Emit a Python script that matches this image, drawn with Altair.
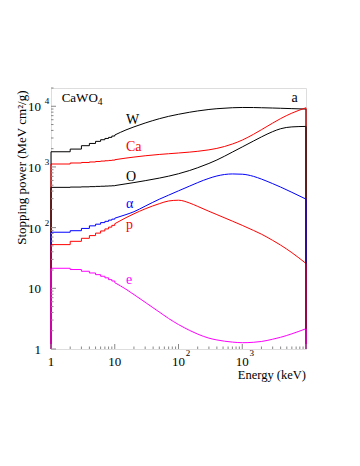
import altair as alt
import pandas as pd

# ---------------- data ----------------
series = ["W", "Ca", "O", "α", "p", "e"]
colors = ["#000000", "#ff0000", "#000000", "#0000ff", "#ff0000", "#ff00ff"]

# low-energy part (tabulated at integer keV, drawn as steps)
energy_steps = [1, 2, 3, 4, 5, 6, 7, 8, 9, 10]
w_steps = [1780, 1970, 2240, 2440, 2640, 2810, 2950, 3070, 3230, 3360]
ca_steps = [1118, 1162, 1185, 1208, 1230, 1250, 1265, 1280, 1295, 1316]
o_steps = [461, 466, 470, 474, 478, 481, 484, 487, 490, 493]
alpha_steps = [84, 89, 97, 107, 114, 121, 127, 133, 138, 143]
p_steps = [52.5, 59.5, 66.7, 73.9, 81.2, 88.2, 95.2, 102, 109, 116]
e_steps = [21.4, 20.4, 19.1, 17.9, 16.8, 15.8, 14.9, 13.9, 13.2, 12.4]

# higher-energy part (smooth)
energy_smooth = [10, 15, 20, 30, 50, 70, 100, 150, 200, 300, 400, 700,
                 1000, 1500, 2000, 3000, 4000, 6000, 10000]
w_smooth = [3360, 4074, 4571, 5297, 6237, 6823, 7379, 7980, 8375, 8851, 9120,
            9462, 9550, 9528, 9462, 9354, 9268, 9141, 8995]
ca_smooth = [1316, 1400, 1455, 1528, 1607, 1652, 1698, 1758, 1811, 1914, 2023,
             2388, 2773, 3451, 4111, 5284, 6266, 7709, 9441]
o_smooth = [493, 527, 553, 594, 655, 705, 773, 875, 971, 1143, 1303, 1758,
            2138, 2673, 3126, 3819, 4266, 4571, 4656]
alpha_smooth = [143, 164, 183, 226, 294, 343, 404, 485, 552, 649, 710, 767,
                759, 700, 631, 531, 466, 382, 295]
p_smooth = [116, 146, 169, 204, 248, 275, 283, 254, 224, 186, 164, 128,
            109, 90, 78, 61.7, 51.5, 38.7, 25.7]
e_smooth = [12.4, 9.66, 7.89, 5.89, 4.06, 3.18, 2.53, 2.02, 1.76, 1.51, 1.41,
            1.30, 1.27, 1.29, 1.33, 1.45, 1.56, 1.78, 2.16]

# curve labels
label_energy = [15, 15, 15, 15, 15, 15]
label_value = [5090, 1851, 594, 208, 96.3, 11.8]

# axis ticks / labels
y_major = [1, 10, 100, 1000, 10000]
y_minor = [2, 3, 4, 5, 6, 7, 8, 9, 20, 30, 40, 50, 60, 70, 80, 90,
           200, 300, 400, 500, 600, 700, 800, 900,
           2000, 3000, 4000, 5000, 6000, 7000, 8000, 9000, 20000]
x_major = [1, 10, 100, 1000, 10000]
x_minor = [2, 3, 4, 5, 6, 7, 8, 9, 20, 30, 40, 50, 60, 70, 80, 90,
           200, 300, 400, 500, 600, 700, 800, 900,
           2000, 3000, 4000, 5000, 6000, 7000, 8000, 9000]
y_label_vals = [1, 10, 100, 1000, 10000]
y_label_txt = ["1", "10", "10", "10", "10"]
y_sup_vals = [100, 1000, 10000]
y_sup_txt = ["2", "3", "4"]
x_label_vals = [1, 10, 100, 1000]
x_label_txt = ["1", "10", "10", "10"]
x_sup_vals = [100, 1000]
x_sup_txt = ["2", "3"]
x_title = "Energy (keV)"
y_title = "Stopping power (MeV cm²/g)"

# ---------------- tables ----------------
steps = [w_steps, ca_steps, o_steps, alpha_steps, p_steps, e_steps]
smooth = [w_smooth, ca_smooth, o_smooth, alpha_smooth, p_smooth, e_smooth]

step_rows, smooth_rows, edge_rows = [], [], []
for k, name in enumerate(series):
    for i, (E, S) in enumerate(zip(energy_steps, steps[k])):
        step_rows.append({"series": name, "E": E, "S": S, "i": i})
    for i, (E, S) in enumerate(zip(energy_smooth, smooth[k])):
        smooth_rows.append({"series": name, "E": E, "S": S, "i": i})
    edge_rows.append({"series": name, "E": energy_steps[0], "S": steps[k][0], "k": k})
    edge_rows.append({"series": name, "E": energy_smooth[-1], "S": smooth[k][-1], "k": k})
step_df = pd.DataFrame(step_rows)
smooth_df = pd.DataFrame(smooth_rows)
edge_df = pd.DataFrame(edge_rows).sort_values(["E", "k"])
label_df = pd.DataFrame({"series": series, "E": label_energy, "S": label_value, "text": series})

W, H = 255, 261
FONT = "Liberation Serif, Times New Roman, Times, serif"
xs = alt.Scale(type="log", domain=[1, 10000], nice=False)
ys = alt.Scale(type="log", domain=[1, 20000], nice=False)
cs = alt.Scale(domain=series, range=colors)

X = alt.X("E:Q", scale=xs, axis=None)
Y = alt.Y("S:Q", scale=ys, axis=None)
col = alt.Color("series:N", scale=cs, legend=None)

step_lines = alt.Chart(step_df).mark_line(interpolate="step-after", strokeWidth=1).encode(
    x=X, y=Y, color=col, detail="series:N", order="i:Q")
smooth_lines = alt.Chart(smooth_df).mark_line(interpolate="monotone", strokeWidth=1).encode(
    x=X, y=Y, color=col, detail="series:N", order="i:Q")
edges = alt.Chart(edge_df).mark_rule(strokeWidth=1).encode(
    x=X, y=Y, y2=alt.value(H), color=col)

labels = alt.Chart(label_df).mark_text(align="left", baseline="alphabetic",
                                       font=FONT, fontSize=14).encode(
    x=X, y=Y, text="text:N", color=col)

title_df = pd.DataFrame({"E": [1.47], "S": [11860], "t": ["CaWO"], "s": ["4"]})
caw = alt.Chart(title_df).mark_text(align="left", baseline="alphabetic", font=FONT,
                                    fontSize=13, color="#000").encode(
    x=X, y=Y, text="t:N")
caw_sub = alt.Chart(title_df).mark_text(align="left", baseline="alphabetic", font=FONT,
                                        fontSize=9.5, color="#000", dx=36, dy=3.5).encode(
    x=X, y=Y, text="s:N")
panel_df = pd.DataFrame({"E": [6600], "S": [11860], "t": ["a"]})
panel = alt.Chart(panel_df).mark_text(align="center", baseline="alphabetic", font=FONT,
                                      fontSize=14, color="#000").encode(
    x=X, y=Y, text="t:N")

TICK = "#888888"
ymaj = alt.Chart(pd.DataFrame({"S": y_major})).mark_rule(color=TICK, strokeWidth=1).encode(
    y=Y, x=alt.value(0), x2=alt.value(5))
ymin = alt.Chart(pd.DataFrame({"S": y_minor})).mark_rule(color=TICK, strokeWidth=1).encode(
    y=Y, x=alt.value(0), x2=alt.value(2.5))
xmaj = alt.Chart(pd.DataFrame({"E": x_major})).mark_rule(color=TICK, strokeWidth=1).encode(
    x=X, y=alt.value(H), y2=alt.value(H - 5))
xmin = alt.Chart(pd.DataFrame({"E": x_minor})).mark_rule(color=TICK, strokeWidth=1).encode(
    x=X, y=alt.value(H), y2=alt.value(H - 2.5))

ylab = alt.Chart(pd.DataFrame({"S": y_label_vals, "t": y_label_txt})).mark_text(
    align="right", baseline="middle", font=FONT, fontSize=13, color="#000", dx=-10, dy=1).encode(
    y=Y, x=alt.value(0), text="t:N")
ysup = alt.Chart(pd.DataFrame({"S": y_sup_vals, "t": y_sup_txt})).mark_text(
    align="center", baseline="middle", font=FONT, fontSize=9, color="#000", dx=-4, dy=-5).encode(
    y=Y, x=alt.value(0), text="t:N")
xlab = alt.Chart(pd.DataFrame({"E": x_label_vals, "t": x_label_txt})).mark_text(
    align="center", baseline="middle", font=FONT, fontSize=13, color="#000", dy=12.5).encode(
    x=X, y=alt.value(H), text="t:N")
xsup = alt.Chart(pd.DataFrame({"E": x_sup_vals, "t": x_sup_txt})).mark_text(
    align="center", baseline="middle", font=FONT, fontSize=9, color="#000", dx=9.5, dy=4).encode(
    x=X, y=alt.value(H), text="t:N")

xt = alt.Chart(pd.DataFrame({"t": [x_title]})).mark_text(
    align="right", baseline="alphabetic", font=FONT, fontSize=12.5, color="#000").encode(
    x=alt.value(W), y=alt.value(H + 30), text="t:N")
yt = alt.Chart(pd.DataFrame({"t": [y_title]})).mark_text(
    align="right", baseline="middle", angle=270, font=FONT, fontSize=13, color="#000").encode(
    x=alt.value(-29), y=alt.value(2.5), text="t:N")

chart = alt.layer(
    step_lines, smooth_lines, edges, ymaj, ymin, xmaj, xmin,
    labels, caw, caw_sub, panel, ylab, ysup, xlab, xsup, xt, yt
).properties(
    width=W, height=H,
    autosize=alt.AutoSizeParams(type="none"),
    padding={"left": 43, "top": 80, "right": 46, "bottom": 100},
).configure_view(stroke="#999999", strokeWidth=1).configure(background="white")

chart.save("out.html", embed_options={"renderer": "svg", "actions": False})
